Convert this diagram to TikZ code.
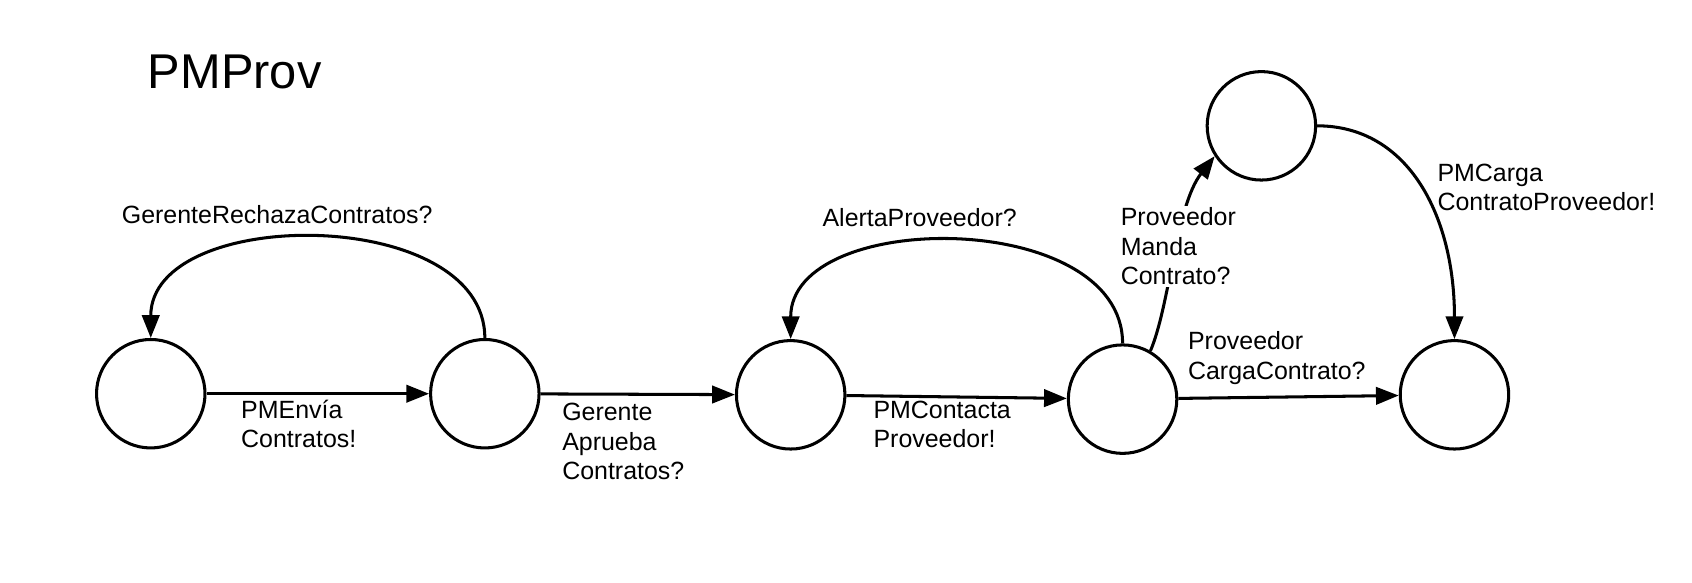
\documentclass[tikz,border=0pt]{standalone}
\usepackage{fontspec}
\setmainfont{Liberation Sans}
\usetikzlibrary{arrows.meta}
\begin{document}
\begin{tikzpicture}[x=0.5pt,y=-0.5pt,
  state/.style={circle,draw,line width=1.4pt,minimum size=50pt,inner sep=0pt},
  edge/.style={draw,line width=1.4pt,-{Triangle[length=10.5pt,width=8pt]}},
  lbl/.style={font=\fontsize{11.5}{13.5}\selectfont,align=left,inner sep=0pt,anchor=west},
  ttl/.style={font=\fontsize{22.5}{27}\selectfont,inner sep=0pt,anchor=west}]
\useasboundingbox (0,0) rectangle (1560,536.6);
\node[state] (A) at (139,363) {};
\node[state] (B) at (447,363) {};
\node[state] (C) at (729,364) {};
\node[state] (D) at (1035,368) {};
\node[state] (E) at (1163,116) {};
\node[state] (F) at (1341,364) {};
\node[ttl] (title) at (136,66) {PMProv};
% straight edges
\path[edge] (A) -- (B);
\path[edge] (B) -- (C);
\path[edge] (C) -- (D);
\path[edge] (D) -- (F);
% loops
\path[edge] (B.north) .. controls (447,189) and (139,189) .. (A.north);
% D -> E with label over it
\path[edge] (D.60) .. controls (1079,280) and (1084,190) .. (E.213);
\node[lbl,fill=white,inner sep=1pt] (lDE) at (1031,227) {Proveedor\\Manda\\Contrato?};
\path[edge] (D.north) .. controls (1035,192) and (729,192) .. (C.north);
\path[edge] (E.east) .. controls (1299,116) and (1341,200) .. (F.north);
% labels
\node[lbl] (lBA) at (112,198) {GerenteRechazaContratos?};
\node[lbl] (lAB) at (222,391) {PMEnvía\\Contratos!};
\node[lbl] (lBC) at (518,407) {Gerente\\Aprueba\\Contratos?};
\node[lbl] (lDC) at (758,201) {AlertaProveedor?};
\node[lbl] (lCD) at (805,391) {PMContacta\\Proveedor!};
\node[lbl] (lDF) at (1095,330) {Proveedor\\CargaContrato?};
\node[lbl] (lEF) at (1325,173) {PMCarga\\ContratoProveedor!};
\end{tikzpicture}
\end{document}
